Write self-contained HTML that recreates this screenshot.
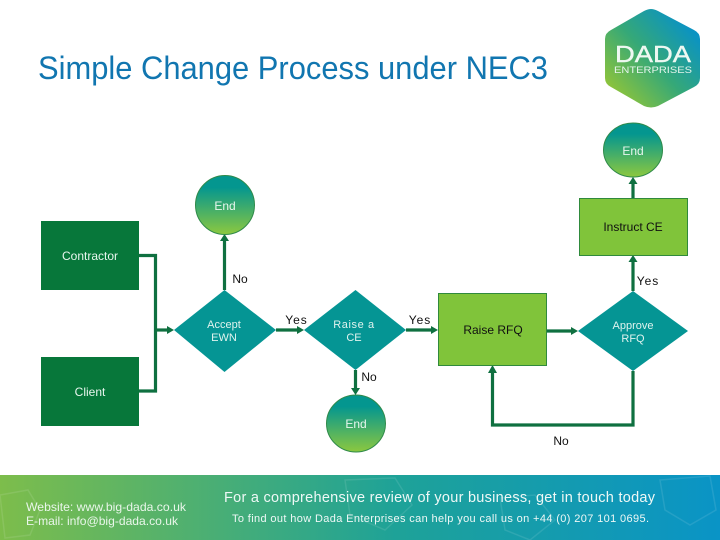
<!DOCTYPE html>
<html><head><meta charset="utf-8"><style>
html,body{margin:0;padding:0;background:#fff;width:720px;height:540px;overflow:hidden}
svg{display:block}
text{font-family:"Liberation Sans",sans-serif}
.w{fill:#e8f6ee;font-size:12px;text-anchor:middle}
.s{fill:#dff3ee;font-size:11px;text-anchor:middle}
.k{fill:#111;font-size:12px;text-anchor:middle}
.y{letter-spacing:1px}
.c{fill:none;stroke:#0f7040;stroke-width:3.2}
.a{fill:#0f7040}
</style></head><body>
<svg width="720" height="540" viewBox="0 0 720 540" xmlns="http://www.w3.org/2000/svg">
<defs>
<linearGradient id="g" x1="0" y1="0" x2="0" y2="1"><stop offset="0.2" stop-color="#04968f"/><stop offset="1" stop-color="#8cc83f"/></linearGradient>
<linearGradient id="f" x1="0" y1="0" x2="1" y2="0"><stop offset="0" stop-color="#7dbd4b"/><stop offset="0.55" stop-color="#1ea298"/><stop offset="1" stop-color="#0a94c6"/></linearGradient>
<linearGradient id="h" x1="0.15" y1="0.9" x2="0.9" y2="0.2"><stop offset="0" stop-color="#8cc33c"/><stop offset="0.5" stop-color="#35a878"/><stop offset="1" stop-color="#0b93c2"/></linearGradient>
</defs>

<text x="38" y="79" font-size="32.5" fill="#1176b0" textLength="510" lengthAdjust="spacingAndGlyphs">Simple Change Process under NEC3</text>

<path d="M651 9 Q654 9 658 11 L694 30 Q700 33 700 39 L700 78 Q700 84 694 87 L658 106 Q651 109 644 106 L611 87 Q605 84 605 78 L605 39 Q605 33 611 30 L644 11 Q648 9 651 9Z" fill="url(#h)"/>
<text x="653" y="62" font-size="23" fill="#eef8f2" stroke="#eef8f2" stroke-width="0.4" text-anchor="middle" textLength="76" lengthAdjust="spacingAndGlyphs">DADA</text>
<text x="653" y="73" font-size="9.5" fill="#e6f5ec" text-anchor="middle" textLength="78" lengthAdjust="spacingAndGlyphs">ENTERPRISES</text>

<!-- connectors -->
<path class="c" d="M139 255.5H155.5V391H139"/>
<path class="c" d="M155.5 330H168"/>
<path class="a" d="M174 330L167 326V334Z"/>
<path class="c" d="M224.5 290V240"/>
<path class="a" d="M224.5 234L220 241H229Z"/>
<path class="c" d="M276 330H298" stroke-width="2.6"/>
<path class="a" d="M304 330L297 326V334Z"/>
<path class="c" d="M355.5 370V389"/>
<path class="a" d="M355.500 395L351 388H360Z"/>
<path class="c" d="M406 330H432" stroke-width="2.6"/>
<path class="a" d="M438 330L431 326V334Z"/>
<path class="c" d="M546 331H572"/>
<path class="a" d="M578 331L571 327V335Z"/>
<path class="c" d="M633 291V261"/>
<path class="a" d="M633 255L628.500 262H637.500Z"/>
<path class="c" d="M633 198V184"/>
<path class="a" d="M633 177L628.500 184H637.500Z"/>
<path class="c" d="M633 371V425H492.500V372"/>
<path class="a" d="M492.500 365L488 373H497Z"/>

<!-- rects -->
<rect x="41" y="221" width="98" height="69" fill="#07773a"/>
<rect x="41" y="357" width="98" height="69" fill="#07773a"/>
<rect x="438.500" y="293.500" width="108" height="72" fill="#80c43a" stroke="#2f8a3c"/>
<rect x="579.500" y="198.500" width="108" height="57" fill="#80c43a" stroke="#2f8a3c"/>

<!-- diamonds -->
<path d="M174 330L224.500 290L276 330L224.500 372Z" fill="#059594"/>
<path d="M304 330L355.500 290L406 330L355.500 370Z" fill="#059594"/>
<path d="M578 331L633 291L688 331L633 371Z" fill="#059594"/>

<!-- circles -->
<ellipse cx="225" cy="205" rx="29.500" ry="29.500" fill="url(#g)" stroke="#2f8a4a"/>
<ellipse cx="633" cy="150" rx="29.500" ry="27" fill="url(#g)" stroke="#2f8a4a"/>
<ellipse cx="356" cy="423.500" rx="29.500" ry="28.500" fill="url(#g)" stroke="#2f8a4a"/>

<!-- labels -->
<text class="w" x="90" y="260">Contractor</text>
<text class="w" x="90" y="396">Client</text>
<text class="w" x="225" y="210">End</text>
<text class="w" x="633" y="155">End</text>
<text class="w" x="356" y="428">End</text>
<text class="s" x="224" y="328">Accept</text>
<text class="s" x="224" y="341">EWN</text>
<text class="s" x="354" y="328" letter-spacing="0.600">Raise a</text>
<text class="s" x="354" y="341">CE</text>
<text class="s" x="633" y="329">Approve</text>
<text class="s" x="633" y="342">RFQ</text>
<text class="k" x="493" y="334">Raise RFQ</text>
<text class="k" x="633" y="231">Instruct CE</text>
<text class="k" x="240" y="283">No</text>
<text class="k y" x="296.500" y="324">Yes</text>
<text class="k y" x="420" y="324">Yes</text>
<text class="k y" x="648" y="285">Yes</text>
<text class="k" x="369" y="381">No</text>
<text class="k" x="561" y="445">No</text>

<!-- footer -->
<rect x="0" y="475" width="720" height="65" fill="url(#f)"/>
<g fill="none" stroke="#ffffff" stroke-opacity="0.1" stroke-width="1.500">
<path d="M0 495L28 490L40 510L30 535L5 538Z"/>
<path d="M345 480L395 478L412 505L385 530L350 515Z"/>
<path d="M500 498L535 495L555 520L530 540L505 530Z"/>
<path d="M660 480L710 476L716 510L690 525L665 510Z"/>
</g>
<text x="26" y="511" font-size="12" fill="#e9f6ea" textLength="160" lengthAdjust="spacingAndGlyphs">Website: www.big-dada.co.uk</text>
<text x="26" y="525" font-size="12" fill="#e9f6ea" textLength="152" lengthAdjust="spacingAndGlyphs">E-mail: info@big-dada.co.uk</text>
<text x="224" y="502" font-size="14.500" fill="#eef8f6" textLength="431" lengthAdjust="spacing">For a comprehensive review of your business, get in touch today</text>
<text x="232" y="522" font-size="11" fill="#eef8f6" textLength="417" lengthAdjust="spacing">To find out how Dada Enterprises can help you call us on +44 (0) 207 101 0695.</text>
</svg>
</body></html>
